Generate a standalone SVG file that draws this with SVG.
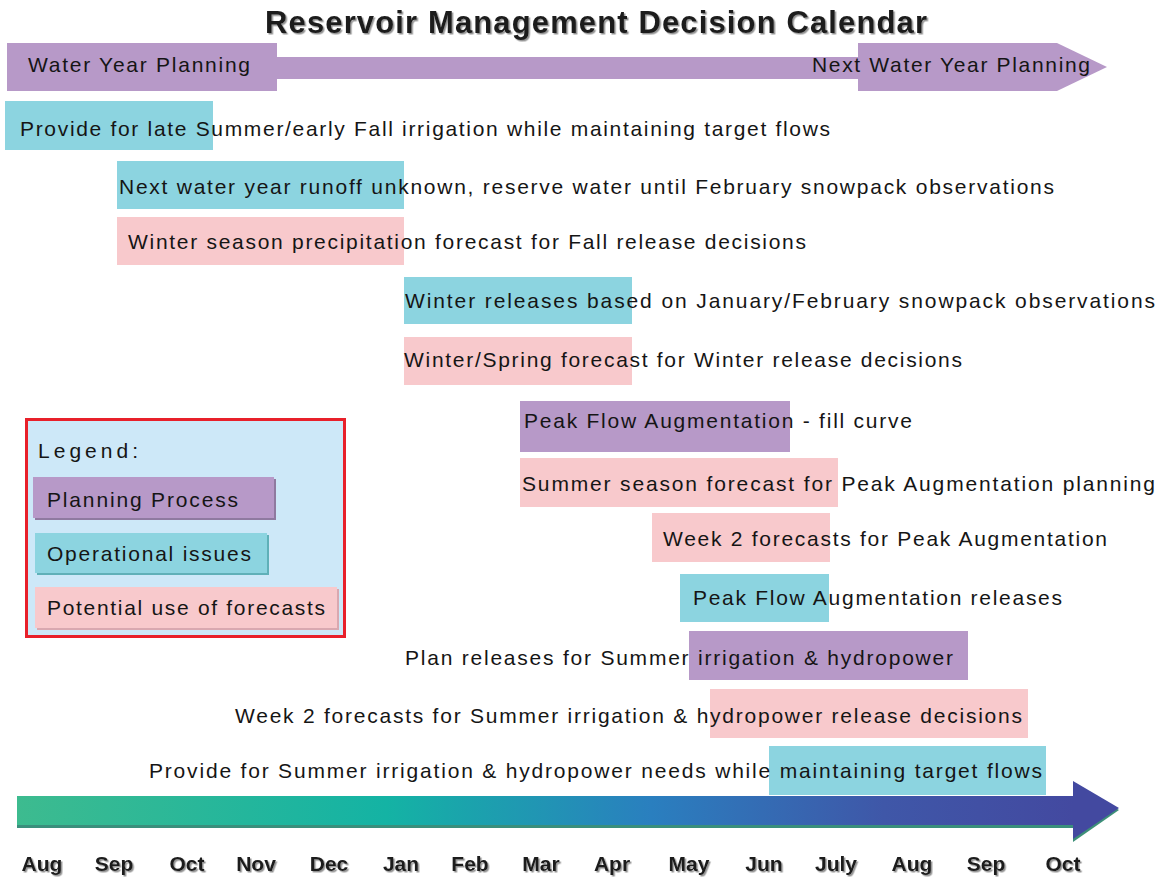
<svg xmlns="http://www.w3.org/2000/svg" width="1162" height="878" viewBox="0 0 1162 878">
  <defs>
    <style>
      .t { font-family: "Liberation Sans", Arial, sans-serif; font-size: 21px; fill: #151515; }
      .title { font-family: "Liberation Sans", Arial, sans-serif; font-size: 31px; font-weight: bold; fill: #1a1a1a; }
      .mon { font-family: "Liberation Sans", Arial, sans-serif; font-size: 21px; font-weight: bold; fill: #1a1a1a; text-anchor: middle; }
      .plan { fill: #b799c8; }
      .oper { fill: #8cd4e0; }
      .fcst { fill: #f8c9cc; }
      .edge { fill: #8f7aa0; }
    </style>
    <filter id="shade" x="-5%" y="-20%" width="110%" height="150%">
      <feDropShadow dx="1.5" dy="1.5" stdDeviation="0.6" flood-color="#777" flood-opacity="0.8"/>
    </filter>
    <linearGradient id="timeline" x1="0" y1="0" x2="1" y2="0">
      <stop offset="0" stop-color="#3dbb8f"/>
      <stop offset="0.35" stop-color="#14b3a4"/>
      <stop offset="0.6" stop-color="#2a7fbf"/>
      <stop offset="0.82" stop-color="#3f57a8"/>
      <stop offset="1" stop-color="#4349a0"/>
    </linearGradient>
  </defs>

  <!-- heading -->
  <text class="title" x="265" y="33" textLength="662" lengthAdjust="spacing" filter="url(#shade)">Reservoir Management Decision Calendar</text>

  <!-- water-year planning arrow along the top -->
  <g id="water-year">
    <rect class="plan" x="7" y="43" width="270" height="48"/>
    <rect class="plan" x="277" y="57" width="581" height="22"/>
    <path class="plan" d="M858 43 H1057 L1107 67 L1057 91 H858 Z"/>
    <text class="t" x="28" y="72" textLength="222" lengthAdjust="spacing">Water Year Planning</text>
    <text class="t" x="812" y="72" textLength="278" lengthAdjust="spacing">Next Water Year Planning</text>
  </g>

  <!-- calendar bars -->
  <g id="late-summer-irrigation">
    <rect class="oper" x="5" y="101" width="208" height="49"/>
    <text class="t" x="20" y="136" textLength="810" lengthAdjust="spacing">Provide for late Summer/early Fall irrigation while maintaining target flows</text>
  </g>
  <g id="runoff-unknown">
    <rect class="oper" x="117" y="161" width="287" height="48"/>
    <text class="t" x="119" y="194" textLength="935" lengthAdjust="spacing">Next water year runoff unknown, reserve water until February snowpack observations</text>
  </g>
  <g id="winter-precip-forecast">
    <rect class="fcst" x="117" y="217" width="287" height="48"/>
    <text class="t" x="128" y="249" textLength="678" lengthAdjust="spacing">Winter season precipitation forecast for Fall release decisions</text>
  </g>
  <g id="winter-releases">
    <rect class="oper" x="404" y="277" width="228" height="47"/>
    <text class="t" x="405" y="308" textLength="750" lengthAdjust="spacing">Winter releases based on  January/February snowpack observations</text>
  </g>
  <g id="winter-spring-forecast">
    <rect class="fcst" x="404" y="337" width="228" height="48"/>
    <text class="t" x="404" y="367" textLength="558" lengthAdjust="spacing">Winter/Spring forecast for Winter release decisions</text>
  </g>
  <g id="peak-flow-fill">
    <rect class="plan" x="520" y="401" width="270" height="51"/>
    <text class="t" x="524" y="428" textLength="388" lengthAdjust="spacing">Peak Flow Augmentation - fill curve</text>
  </g>
  <g id="summer-season-forecast">
    <rect class="fcst" x="520" y="458" width="318" height="49"/>
    <text class="t" x="522" y="491" textLength="633" lengthAdjust="spacing">Summer season forecast for Peak Augmentation planning</text>
  </g>
  <g id="week2-peak">
    <rect class="fcst" x="652" y="513" width="178" height="49"/>
    <text class="t" x="663" y="546" textLength="444" lengthAdjust="spacing">Week 2 forecasts for Peak Augmentation</text>
  </g>
  <g id="peak-flow-releases">
    <rect class="oper" x="680" y="574" width="149" height="48"/>
    <text class="t" x="693" y="605" textLength="369" lengthAdjust="spacing">Peak Flow Augmentation releases</text>
  </g>
  <g id="plan-summer-releases">
    <rect class="plan" x="689" y="631" width="279" height="49"/>
    <text class="t" x="405" y="665" textLength="548" lengthAdjust="spacing">Plan releases for Summer irrigation &amp; hydropower</text>
  </g>
  <g id="week2-summer">
    <rect class="fcst" x="710" y="689" width="318" height="49"/>
    <text class="t" x="235" y="723" textLength="787" lengthAdjust="spacing">Week 2 forecasts for Summer irrigation &amp; hydropower release decisions</text>
  </g>
  <g id="summer-needs">
    <rect class="oper" x="769" y="746" width="277" height="49"/>
    <text class="t" x="149" y="778" textLength="893" lengthAdjust="spacing">Provide for Summer irrigation &amp; hydropower needs while maintaining target flows</text>
  </g>

  <!-- legend -->
  <g id="legend">
    <rect x="26.5" y="419.5" width="318" height="217" fill="#cde8f8" stroke="#e8202a" stroke-width="3"/>
    <text class="t" x="38" y="458" font-size="23" textLength="100" lengthAdjust="spacing">Legend:</text>
    <rect class="edge" x="35" y="479" width="241" height="41"/>
    <rect class="plan" x="33" y="477" width="241" height="41"/>
    <text class="t" x="47" y="507" textLength="191" lengthAdjust="spacing">Planning Process</text>
    <rect x="37" y="535" width="232" height="40" fill="#5fb0b8"/>
    <rect class="oper" x="35" y="533" width="232" height="40"/>
    <text class="t" x="47" y="561" textLength="204" lengthAdjust="spacing">Operational issues</text>
    <rect x="37" y="589" width="302" height="41" fill="#d9a8b0"/>
    <rect class="fcst" x="35" y="587" width="302" height="41"/>
    <text class="t" x="47" y="615" textLength="278" lengthAdjust="spacing">Potential use of forecasts</text>
  </g>

  <!-- month timeline -->
  <g id="timeline-arrow">
    <rect x="17" y="800" width="1057" height="28" fill="#3a8f7c"/>
    <rect x="17" y="796" width="1057" height="29" fill="url(#timeline)"/>
    <path d="M1073 783 L1119 810 L1073 842 Z" fill="#3d9078"/>
    <path d="M1073 781 L1119 808 L1073 839 Z" fill="#4349a0"/>
  </g>
  <g id="months" filter="url(#shade)">
    <text class="mon" x="42" y="871">Aug</text>
    <text class="mon" x="114" y="871">Sep</text>
    <text class="mon" x="187" y="871">Oct</text>
    <text class="mon" x="256" y="871">Nov</text>
    <text class="mon" x="329" y="871">Dec</text>
    <text class="mon" x="401" y="871">Jan</text>
    <text class="mon" x="470" y="871">Feb</text>
    <text class="mon" x="541" y="871">Mar</text>
    <text class="mon" x="612" y="871">Apr</text>
    <text class="mon" x="689" y="871">May</text>
    <text class="mon" x="764" y="871">Jun</text>
    <text class="mon" x="836" y="871">July</text>
    <text class="mon" x="912" y="871">Aug</text>
    <text class="mon" x="986" y="871">Sep</text>
    <text class="mon" x="1063" y="871">Oct</text>
  </g>
</svg>
